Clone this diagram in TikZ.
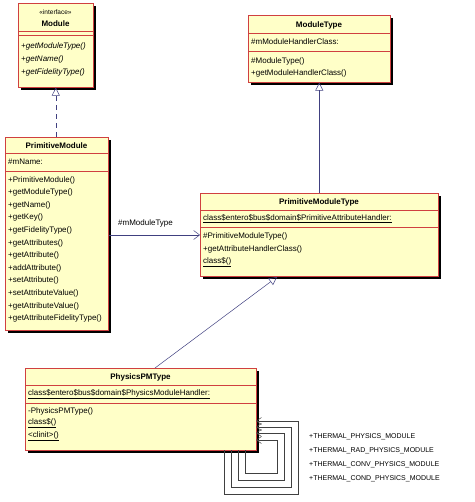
\documentclass[tikz,border=0pt]{standalone}
\usepackage{fontspec}
\setmainfont{Liberation Sans}
\usetikzlibrary{arrows.meta,calc}
\definecolor{cfill}{HTML}{FFFFC8}
\definecolor{cbord}{HTML}{D04040}
\definecolor{cline}{HTML}{404080}
\begin{document}
\begin{tikzpicture}[x=1pt,y=-1pt,
 box/.style={draw=cbord,fill=cfill,line width=0.6pt,anchor=north west,inner sep=0,
   preaction={fill=black,transform canvas={shift={(2.5pt,-2.5pt)}}}},
 t/.style={font=\fontsize{8}{9}\selectfont,anchor=west,inner sep=0},
 tb/.style={font=\fontsize{8}{9}\selectfont\bfseries,inner sep=0},
 sep/.style={draw=cbord,line width=0.6pt},
 rel/.style={draw=cline,line width=0.5pt},
 tri/.style={-{Triangle[open,length=8pt,width=8pt]}},
 loop/.style={draw=black!75,line width=0.5pt,-{Straight Barb[length=5pt,width=7pt]}}]
\useasboundingbox (0,0) rectangle (474,502);
% Module
\node[box,minimum width=75pt,minimum height=84pt] (m) at (18,3) {};
\node[font=\fontsize{6.5}{7}\selectfont,inner sep=0] (m0) at (55.5,12) {«interface»};
\node[tb] (m1) at (55.5,24) {Module};
\draw[sep] (18,31) -- (93,31); \draw[sep] (18,35) -- (93,35);
\node[t,font=\fontsize{8}{9}\selectfont\itshape] (m2) at (21,46) {+getModuleType()};
\node[t,font=\fontsize{8}{9}\selectfont\itshape] (m3) at (21,59) {+getName()};
\node[t,font=\fontsize{8}{9}\selectfont\itshape] (m4) at (21,72) {+getFidelityType()};
% PrimitiveModule
\node[box,minimum width=103pt,minimum height=193pt] (pm) at (5,137) {};
\node[tb] (pm0) at (56.5,146) {PrimitiveModule};
\draw[sep] (5,153) -- (108,153); \draw[sep] (5,171) -- (108,171);
\node[t] (pm1) at (8,162) {\#mName:};
\foreach \s [count=\i] in {+PrimitiveModule(),+getModuleType(),+getName(),+getKey(),+getFidelityType(),+getAttributes(),+getAttribute(),+addAttribute(),+setAttribute(),+setAttributeValue(),+getAttributeValue(),+getAttributeFidelityType()}
  \node[t] (pmm\i) at (8,{167.5+12.6*\i}) {\s};
% ModuleType
\node[box,minimum width=142pt,minimum height=67pt] (mt) at (248,15) {};
\node[tb] (mt0) at (319,25) {ModuleType};
\draw[sep] (248,33) -- (390,33); \draw[sep] (248,51) -- (390,51);
\node[t] (mt1) at (251,42) {\#mModuleHandlerClass:};
\node[t] (mt2) at (251,61) {\#ModuleType()};
\node[t] (mt3) at (251,73) {+getModuleHandlerClass()};
% PrimitiveModuleType
\node[box,minimum width=238pt,minimum height=83pt] (pmt) at (200,193) {};
\node[tb] (pmt0) at (319,202) {PrimitiveModuleType};
\draw[sep] (200,210) -- (438,210); \draw[sep] (200,227) -- (438,227);
\node[t] (pmt1) at (203,218.5) {\underline{class\$entero\$bus\$domain\$PrimitiveAttributeHandler:}};
\node[t] (pmt2) at (203,236) {\#PrimitiveModuleType()};
\node[t] (pmt3) at (203,249) {+getAttributeHandlerClass()};
\node[t] (pmt4) at (203,262) {\underline{class\$()}};
% PhysicsPMType
\node[box,minimum width=231pt,minimum height=82pt] (ph) at (25,368) {};
\node[tb] (ph0) at (140.5,377) {PhysicsPMType};
\draw[sep] (25,385) -- (256,385); \draw[sep] (25,403) -- (256,403);
\node[t] (ph1) at (28,394) {\underline{class\$entero\$bus\$domain\$PhysicsModuleHandler:}};
\node[t] (ph2) at (28,411) {-PhysicsPMType()};
\node[t] (ph3) at (28,423.5) {\underline{class\$()}};
\node[t] (ph4) at (28,436) {\underline{<clinit>()}};
% relations
\draw[rel,dashed,dash pattern=on 5pt off 4pt,tri] (m.south |- pm.north) -- (m.south);
\draw[rel,tri] (mt.south |- pmt.north) -- (mt.south);
\draw[rel,-{Straight Barb[length=6pt,width=9pt]}] (pm.east |- 0,235) -- (pmt.west |- 0,235);
\node[t] (lbl) at (118,223) {\#mModuleType};
\draw[rel,tri] (ph.north -| 155,0) -- (277,277);
% self loops
\foreach \i/\ay in {0/421,1/427,2/433,3/440}{
  \draw[loop] ({224+7*\i},450) -- ({224+7*\i},{494-7*\i}) -- ({298-7*\i},{494-7*\i}) -- ({298-7*\i},\ay) -- (256,\ay);
}
\node[t,font=\fontsize{7}{8}\selectfont] (c1) at (309,437) {+THERMAL\_PHYSICS\_MODULE};
\node[t,font=\fontsize{7}{8}\selectfont] (c2) at (309,451) {+THERMAL\_RAD\_PHYSICS\_MODULE};
\node[t,font=\fontsize{7}{8}\selectfont] (c3) at (309,465) {+THERMAL\_CONV\_PHYSICS\_MODULE};
\node[t,font=\fontsize{7}{8}\selectfont] (c4) at (309,479) {+THERMAL\_COND\_PHYSICS\_MODULE};
\end{tikzpicture}
\end{document}
